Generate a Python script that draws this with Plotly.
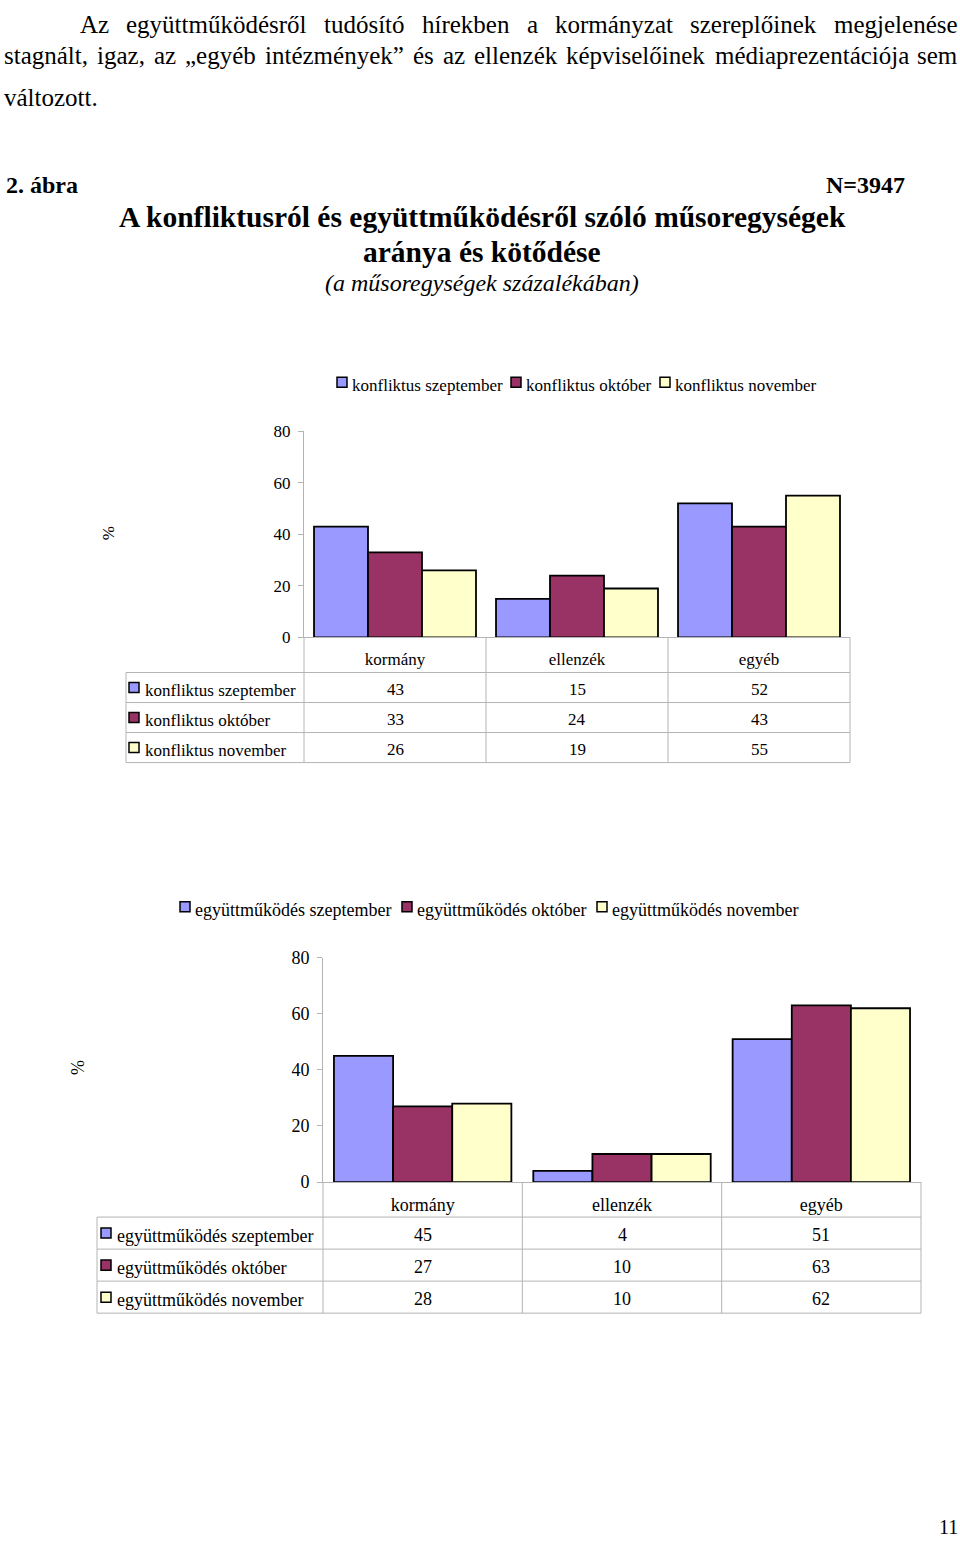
import plotly.graph_objects as go

W, H = 960, 1543
FONT = "Liberation Serif"
GRID = "#B4B4B4"

# ---------------- data ----------------
categories = ["kormány", "ellenzék", "egyéb"]
y_ticks = [0, 20, 40, 60, 80]

konf_names = ["konfliktus szeptember", "konfliktus október", "konfliktus november"]
konf_szeptember = [43, 15, 52]
konf_oktober = [33, 24, 43]
konf_november = [26, 19, 55]

egy_names = ["együttműködés szeptember", "együttműködés október", "együttműködés november"]
egy_szeptember = [45, 4, 51]
egy_oktober = [27, 10, 63]
egy_november = [28, 10, 62]

series_colors = ["#9999FF", "#993366", "#FFFFCC"]

paragraph_lines = [
    "Az együttműködésről tudósító hírekben a kormányzat szereplőinek megjelenése",
    "stagnált, igaz, az „egyéb intézmények” és az ellenzék képviselőinek médiaprezentációja sem",
    "változott.",
]
figure_label = "2. ábra"
n_label = "N=3947"
title_lines = ["A konfliktusról és együttműködésről szóló műsoregységek", "aránya és kötődése"]
subtitle = "(a műsoregységek százalékában)"
page_number = "11"

# ---------------- layout helpers (pixel positions) ----------------
PARA_SIZE = 25
line_spans = [(80, 958, True), (4, 958, True), (4, None, False)]   # start, end, justified
line_y = [25, 56, 98]

# Times / Liberation Serif advance widths (1/1000 em) for justification
_W = dict(a=444, b=500, c=444, d=500, e=444, f=333, g=500, h=500, i=278, j=278, k=500,
          l=278, m=778, n=500, o=500, p=500, q=500, r=333, s=389, t=278, u=500, v=500,
          w=722, x=500, y=500, z=444, A=722, N=722)
_W.update({"á": 444, "é": 444, "í": 278, "ó": 500, "ö": 500, "ő": 500, "ú": 500, "ü": 500,
           "ű": 500, ",": 250, ".": 250, "„": 444, "”": 444, " ": 250})


def word_width(w, size):
    return sum(_W.get(ch, 500) for ch in w) / 1000 * size


# vertical calibration of the photographed page
VS, VOFF = 0.986, 10.2


def X(px):
    return px / W


def Y(py):
    fy = (py - VOFF) / VS
    fy = min(max(fy, 0), H - 6)
    return 1 - fy / H


annotations = []
shapes = []


def text(px, py, s, size, xanchor="center", color="black", angle=0):
    annotations.append(dict(
        x=X(px), y=Y(py), xref="paper", yref="paper", text=s, showarrow=False,
        xanchor=xanchor, yanchor="middle", textangle=angle,
        font=dict(family=FONT, size=size, color=color)))


def line(x0, y0, x1, y1, color=GRID, width=1):
    shapes.append(dict(type="line", xref="paper", yref="paper",
                       x0=X(x0), y0=Y(y0), x1=X(x1), y1=Y(y1),
                       line=dict(color=color, width=width)))


def square(px, py, color, size=10):
    shapes.append(dict(type="rect", xref="paper", yref="paper",
                       x0=X(px), x1=X(px + size), y0=Y(py + size / 2), y1=Y(py - size / 2),
                       fillcolor=color, line=dict(color="black", width=1.5)))


# paragraph (justified word by word)
for ln, (x0, x1, just), ly in zip(paragraph_lines, line_spans, line_y):
    words = ln.split(" ")
    widths = [word_width(w, PARA_SIZE) for w in words]
    if just and len(words) > 1:
        gap = (x1 - x0 - sum(widths)) / (len(words) - 1)
    else:
        gap = 0.25 * PARA_SIZE
    cx = x0
    for w, ww in zip(words, widths):
        text(cx + ww / 2, ly, w, PARA_SIZE)
        cx += ww + gap

# headings
text(4, 185, "<b>" + figure_label + "</b>", 24, xanchor="left")
text(907, 185, "<b>" + n_label + "</b>", 24, xanchor="right")
text(482, 217, "<b>" + title_lines[0] + "</b>", 29.5)
text(482, 252, "<b>" + title_lines[1] + "</b>", 29.5)
text(482, 283, "<i>" + subtitle + "</i>", 24)
text(948, 1535, page_number, 20)

fig = go.Figure()

charts = [
    dict(names=konf_names, values=[konf_szeptember, konf_oktober, konf_november],
         xa="x", ya="y", ax0=304, ax1=850, y0=637, y80=431, left=126,
         rows=[672, 702, 732, 762], fs=17, pct=(108, 533),
         leg_y=385, leg_sq=[337, 511, 660], tbl_sq=129),
    dict(names=egy_names, values=[egy_szeptember, egy_oktober, egy_november],
         xa="x2", ya="y2", ax0=323, ax1=921, y0=1181, y80=957, left=97,
         rows=[1216, 1248, 1280, 1312], fs=18, pct=(78, 1067),
         leg_y=909, leg_sq=[180, 402, 597], tbl_sq=101),
]

layout_axes = {}
for i, c in enumerate(charts):
    for name, vals, col in zip(c["names"], c["values"], series_colors):
        fig.add_trace(go.Bar(x=categories, y=vals, name=name, xaxis=c["xa"], yaxis=c["ya"],
                             marker=dict(color=col, line=dict(color="black", width=1.8)),
                             showlegend=False))
    suffix = "" if i == 0 else str(i + 1)
    layout_axes["xaxis" + suffix] = dict(
        domain=[X(c["ax0"]), X(c["ax1"])], anchor=c["ya"], type="category",
        showline=True, linecolor=GRID, linewidth=1, ticks="", showgrid=False,
        tickfont=dict(family=FONT, size=c["fs"], color="black"), ticklabelstandoff=6)
    layout_axes["yaxis" + suffix] = dict(
        domain=[Y(c["y0"]), Y(c["y80"])], anchor=c["xa"], range=[0, 80], tickvals=y_ticks,
        showline=True, linecolor=GRID, linewidth=1, ticks="outside", ticklen=5, tickcolor=GRID,
        showgrid=False, zeroline=False,
        tickfont=dict(family=FONT, size=c["fs"], color="black"), ticklabelstandoff=4)

    # axis label
    text(c["pct"][0], c["pct"][1], "%", c["fs"], angle=-90)

    # legend
    for nm, col, sx in zip(c["names"], series_colors, c["leg_sq"]):
        square(sx, c["leg_y"] - 3, col)
        text(sx + 13, c["leg_y"], nm, c["fs"], xanchor="left")

    # data table grid
    cw = (c["ax1"] - c["ax0"]) / len(categories)
    rows = c["rows"]
    line(c["ax0"], c["y0"], c["ax0"], rows[-1])
    for k in range(1, len(categories) + 1):
        line(c["ax0"] + k * cw, c["y0"], c["ax0"] + k * cw, rows[-1])
    for r in rows:
        line(c["left"], r, c["ax1"], r)
    line(c["left"], rows[0], c["left"], rows[-1])

    # table rows
    for j, (nm, vals, col) in enumerate(zip(c["names"], c["values"], series_colors)):
        rc = (rows[j] + rows[j + 1]) / 2
        square(c["tbl_sq"], rc, col)
        text(c["tbl_sq"] + 14, rc + 3, nm, c["fs"], xanchor="left")
        for k, v in enumerate(vals):
            text(c["ax0"] + (k + 0.5) * cw, rc + 2, str(v), c["fs"])

fig.update_layout(
    width=W, height=H, margin=dict(l=0, r=0, t=0, b=0),
    paper_bgcolor="white", plot_bgcolor="white",
    barmode="group", bargap=0.11, bargroupgap=0,
    showlegend=False, annotations=annotations, shapes=shapes,
    font=dict(family=FONT, color="black"),
    **layout_axes,
)

fig.write_html("out.html", config={"displayModeBar": False},
               post_script="document.body.style.margin='0';document.body.style.overflow='hidden';")
